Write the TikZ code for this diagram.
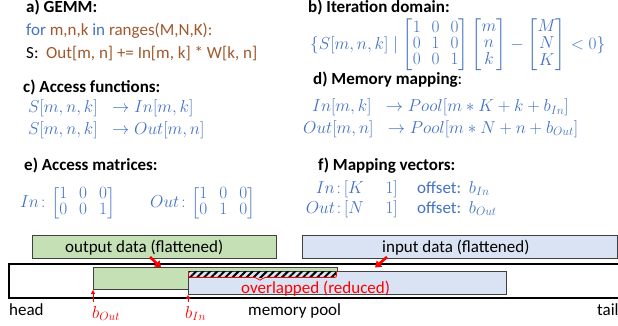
\documentclass[tikz,border=0pt]{standalone}
\usepackage{amsmath}
\usepackage{fontspec}
\setmainfont{Carlito}
\usetikzlibrary{patterns.meta,arrows.meta}
\definecolor{mblue}{HTML}{4472C4}
\definecolor{cbrown}{HTML}{A0582C}
\definecolor{gfill}{HTML}{C5E0B4}
\definecolor{bfill}{HTML}{DAE3F3}
\definecolor{bord}{HTML}{404040}
\begin{document}
\begin{tikzpicture}[x=1pt,y=-1pt,
  hd/.style={anchor=base west, inner sep=0pt, font=\fontsize{17}{20}\selectfont\bfseries},
  tx/.style={anchor=base west, inner sep=0pt, font=\fontsize{17}{20}\selectfont},
  mt/.style={inner sep=0pt, text=mblue, font=\fontsize{17}{20}\selectfont},
  databox/.style={draw=bord, line width=0.9pt, inner sep=0pt},
  bigarrow/.style={red, line width=2.6pt, -{Triangle[length=6pt,width=8pt]}},
  uparrow/.style={red, line width=0.9pt, -{Triangle[length=4pt,width=4pt]}}
]
\useasboundingbox (0,0) rectangle (618,326);

% a)
\node[hd] (ha) at (26,13) {a) GEMM:};
\node[tx] (a1) at (26,36) {\textcolor{mblue}{for} \textcolor{cbrown}{m,n,k} \textcolor{mblue}{in} \textcolor{cbrown}{ranges(M,N,K):}};
\node[tx] (a2) at (26,59) {S:\ \ \textcolor{cbrown}{Out[m, n] += In[m, k] * W[k, n]}};

% b)
\node[hd] (hb) at (308,12.5) {b) Iteration domain:};
\node[mt, anchor=west] (b1) at (310,45) {\renewcommand{\arraystretch}{0.8}\setlength{\arraycolsep}{5.5pt}$\{S[m,n,k]\mid\begin{bmatrix}1&0&0\\0&1&0\\0&0&1\end{bmatrix}\begin{bmatrix}m\\n\\k\end{bmatrix}-\begin{bmatrix}M\\N\\K\end{bmatrix}<0\}$};

% c)
\node[hd] (hc) at (23,93) {c) Access functions:};
\node[mt, anchor=base west] (c1) at (28,113) {$S[m,n,k]\;\;\to In[m,k]$};
\node[mt, anchor=base west] (c2) at (28,135) {$S[m,n,k]\;\;\to Out[m,n]$};

% d)
\node[hd] (hd) at (313,85) {d) Memory mapping\mdseries:};
\node[mt, anchor=base west] (d1) at (312,112) {$In[m,k]\;\;\to Pool[m\ast K+k+b_{In}]$};
\node[mt, anchor=base west] (d2) at (303,133) {$Out[m,n]\;\;\to Pool[m\ast N+n+b_{Out}]$};

% e)
\node[hd] (he) at (24,170) {e) Access matrices:};
\node[mt, anchor=west] (e1) at (20,203) {\renewcommand{\arraystretch}{0.75}\setlength{\arraycolsep}{6pt}$In\colon\!\begin{bmatrix}1&0&0\\0&0&1\end{bmatrix}$};
\node[mt, anchor=west] (e2) at (150,203) {\renewcommand{\arraystretch}{0.75}\setlength{\arraycolsep}{6pt}$Out\colon\!\begin{bmatrix}1&0&0\\0&1&0\end{bmatrix}$};

% f)
\node[hd] (hf) at (318,170) {f) Mapping vectors:};
\node[mt, anchor=base east] (f1) at (398,193) {$In\colon\![K\quad\; 1]$};
\node[mt, anchor=base east] (f2) at (398,213) {$Out\colon\![N\quad\; 1]$};
\node[tx, text=mblue] (f3) at (417,193) {offset:\ \ $b_{In}$};
\node[tx, text=mblue] (f4) at (417,213) {offset:\ \ $b_{Out}$};

% data boxes
\node[databox, fill=gfill, anchor=north west, minimum width=244pt, minimum height=23pt] (outd) at (32,235) {};
\node[tx] (outt) at (65,252) {output data (flattened)};
\node[databox, fill=bfill, anchor=north west, minimum width=315pt, minimum height=23pt] (ind) at (302,235) {};
\node[tx] (intt) at (382,252) {input data (flattened)};

% memory bar
\draw[black, line width=1.1pt] (618,264) -- (9,264) -- (9,298) -- (618,298);
\node[databox, fill=gfill, anchor=north west, minimum width=244pt, minimum height=22pt] (outm) at (93,267) {};
\node[databox, fill=bfill, anchor=north west, minimum width=318pt, minimum height=23pt] (inm) at (188,271) {};
\fill[pattern={Lines[angle=45,distance=5pt,line width=2pt]}] (188.5,271.5) rectangle (336.5,277);
\draw[red, line width=0.8pt, rounded corners=2pt] (188.5,271) -- (188.5,277.5) -- (257,277.5) -- (260,281) -- (263,277.5) -- (336.5,277.5) -- (336.5,271);
\node[tx, text=red] (ovl) at (241,293) {overlapped (reduced)};

% arrows into memory
\coordinate (oa) at (150,257);
\coordinate (ob) at (161,267.5);
\draw[bigarrow] (oa) -- (ob);
\coordinate (ia) at (387,257);
\coordinate (ib) at (375,267.5);
\draw[bigarrow] (ia) -- (ib);

% labels
\node[tx] (head) at (9,315) {head};
\node[tx] (pool) at (248,315) {memory pool};
\node[tx] (tail) at (597,315) {tail};
\node[mt, text=red, anchor=base west] (bo) at (92,318) {$b_{Out}$};
\node[mt, text=red, anchor=base west] (bi) at (185,318) {$b_{In}$};
\coordinate (bot) at (93,302);
\coordinate (bit) at (188,302);
\draw[uparrow] (bot) -- (outm.south west);
\draw[uparrow] (bit) -- (inm.south west);
\end{tikzpicture}
\end{document}
